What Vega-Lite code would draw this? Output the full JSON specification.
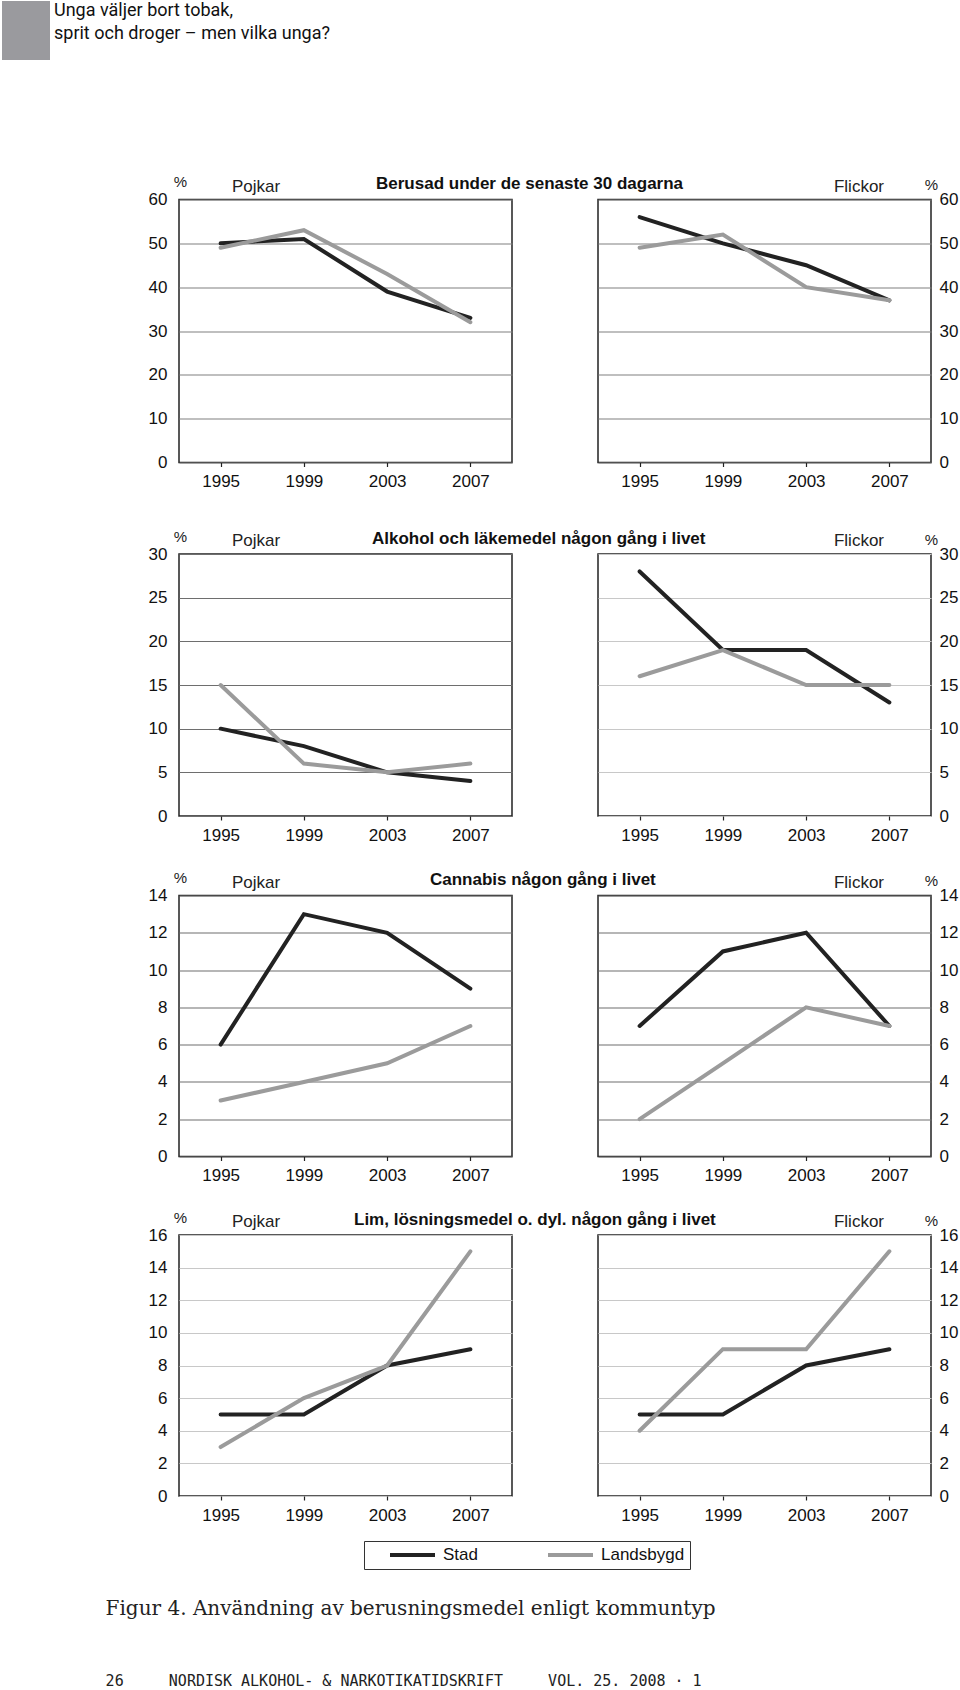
{
  "$schema": "https://vega.github.io/schema/vega-lite/v6.json",
  "padding": {"left": 2, "top": 1, "right": 0, "bottom": 0},
  "background": "white",
  "datasets": {
    "d": [
      {"drug": "Berusad", "sex": "Pojkar", "area": "Stad", "year": "1995", "value": 50},
      {"drug": "Berusad", "sex": "Pojkar", "area": "Stad", "year": "1999", "value": 51},
      {"drug": "Berusad", "sex": "Pojkar", "area": "Stad", "year": "2003", "value": 39},
      {"drug": "Berusad", "sex": "Pojkar", "area": "Stad", "year": "2007", "value": 33},
      {"drug": "Berusad", "sex": "Pojkar", "area": "Landsbygd", "year": "1995", "value": 49},
      {"drug": "Berusad", "sex": "Pojkar", "area": "Landsbygd", "year": "1999", "value": 53},
      {"drug": "Berusad", "sex": "Pojkar", "area": "Landsbygd", "year": "2003", "value": 43},
      {"drug": "Berusad", "sex": "Pojkar", "area": "Landsbygd", "year": "2007", "value": 32},
      {"drug": "Berusad", "sex": "Flickor", "area": "Stad", "year": "1995", "value": 56},
      {"drug": "Berusad", "sex": "Flickor", "area": "Stad", "year": "1999", "value": 50},
      {"drug": "Berusad", "sex": "Flickor", "area": "Stad", "year": "2003", "value": 45},
      {"drug": "Berusad", "sex": "Flickor", "area": "Stad", "year": "2007", "value": 37},
      {"drug": "Berusad", "sex": "Flickor", "area": "Landsbygd", "year": "1995", "value": 49},
      {"drug": "Berusad", "sex": "Flickor", "area": "Landsbygd", "year": "1999", "value": 52},
      {"drug": "Berusad", "sex": "Flickor", "area": "Landsbygd", "year": "2003", "value": 40},
      {"drug": "Berusad", "sex": "Flickor", "area": "Landsbygd", "year": "2007", "value": 37},
      {"drug": "Alkohol", "sex": "Pojkar", "area": "Stad", "year": "1995", "value": 10},
      {"drug": "Alkohol", "sex": "Pojkar", "area": "Stad", "year": "1999", "value": 8},
      {"drug": "Alkohol", "sex": "Pojkar", "area": "Stad", "year": "2003", "value": 5},
      {"drug": "Alkohol", "sex": "Pojkar", "area": "Stad", "year": "2007", "value": 4},
      {"drug": "Alkohol", "sex": "Pojkar", "area": "Landsbygd", "year": "1995", "value": 15},
      {"drug": "Alkohol", "sex": "Pojkar", "area": "Landsbygd", "year": "1999", "value": 6},
      {"drug": "Alkohol", "sex": "Pojkar", "area": "Landsbygd", "year": "2003", "value": 5},
      {"drug": "Alkohol", "sex": "Pojkar", "area": "Landsbygd", "year": "2007", "value": 6},
      {"drug": "Alkohol", "sex": "Flickor", "area": "Stad", "year": "1995", "value": 28},
      {"drug": "Alkohol", "sex": "Flickor", "area": "Stad", "year": "1999", "value": 19},
      {"drug": "Alkohol", "sex": "Flickor", "area": "Stad", "year": "2003", "value": 19},
      {"drug": "Alkohol", "sex": "Flickor", "area": "Stad", "year": "2007", "value": 13},
      {"drug": "Alkohol", "sex": "Flickor", "area": "Landsbygd", "year": "1995", "value": 16},
      {"drug": "Alkohol", "sex": "Flickor", "area": "Landsbygd", "year": "1999", "value": 19},
      {"drug": "Alkohol", "sex": "Flickor", "area": "Landsbygd", "year": "2003", "value": 15},
      {"drug": "Alkohol", "sex": "Flickor", "area": "Landsbygd", "year": "2007", "value": 15},
      {"drug": "Cannabis", "sex": "Pojkar", "area": "Stad", "year": "1995", "value": 6},
      {"drug": "Cannabis", "sex": "Pojkar", "area": "Stad", "year": "1999", "value": 13},
      {"drug": "Cannabis", "sex": "Pojkar", "area": "Stad", "year": "2003", "value": 12},
      {"drug": "Cannabis", "sex": "Pojkar", "area": "Stad", "year": "2007", "value": 9},
      {"drug": "Cannabis", "sex": "Pojkar", "area": "Landsbygd", "year": "1995", "value": 3},
      {"drug": "Cannabis", "sex": "Pojkar", "area": "Landsbygd", "year": "1999", "value": 4},
      {"drug": "Cannabis", "sex": "Pojkar", "area": "Landsbygd", "year": "2003", "value": 5},
      {"drug": "Cannabis", "sex": "Pojkar", "area": "Landsbygd", "year": "2007", "value": 7},
      {"drug": "Cannabis", "sex": "Flickor", "area": "Stad", "year": "1995", "value": 7},
      {"drug": "Cannabis", "sex": "Flickor", "area": "Stad", "year": "1999", "value": 11},
      {"drug": "Cannabis", "sex": "Flickor", "area": "Stad", "year": "2003", "value": 12},
      {"drug": "Cannabis", "sex": "Flickor", "area": "Stad", "year": "2007", "value": 7},
      {"drug": "Cannabis", "sex": "Flickor", "area": "Landsbygd", "year": "1995", "value": 2},
      {"drug": "Cannabis", "sex": "Flickor", "area": "Landsbygd", "year": "1999", "value": 5},
      {"drug": "Cannabis", "sex": "Flickor", "area": "Landsbygd", "year": "2003", "value": 8},
      {"drug": "Cannabis", "sex": "Flickor", "area": "Landsbygd", "year": "2007", "value": 7},
      {"drug": "Lim", "sex": "Pojkar", "area": "Stad", "year": "1995", "value": 5},
      {"drug": "Lim", "sex": "Pojkar", "area": "Stad", "year": "1999", "value": 5},
      {"drug": "Lim", "sex": "Pojkar", "area": "Stad", "year": "2003", "value": 8},
      {"drug": "Lim", "sex": "Pojkar", "area": "Stad", "year": "2007", "value": 9},
      {"drug": "Lim", "sex": "Pojkar", "area": "Landsbygd", "year": "1995", "value": 3},
      {"drug": "Lim", "sex": "Pojkar", "area": "Landsbygd", "year": "1999", "value": 6},
      {"drug": "Lim", "sex": "Pojkar", "area": "Landsbygd", "year": "2003", "value": 8},
      {"drug": "Lim", "sex": "Pojkar", "area": "Landsbygd", "year": "2007", "value": 15},
      {"drug": "Lim", "sex": "Flickor", "area": "Stad", "year": "1995", "value": 5},
      {"drug": "Lim", "sex": "Flickor", "area": "Stad", "year": "1999", "value": 5},
      {"drug": "Lim", "sex": "Flickor", "area": "Stad", "year": "2003", "value": 8},
      {"drug": "Lim", "sex": "Flickor", "area": "Stad", "year": "2007", "value": 9},
      {"drug": "Lim", "sex": "Flickor", "area": "Landsbygd", "year": "1995", "value": 4},
      {"drug": "Lim", "sex": "Flickor", "area": "Landsbygd", "year": "1999", "value": 9},
      {"drug": "Lim", "sex": "Flickor", "area": "Landsbygd", "year": "2003", "value": 9},
      {"drug": "Lim", "sex": "Flickor", "area": "Landsbygd", "year": "2007", "value": 15}
    ],
    "blank": [{"t": ""}]
  },
  "data": {"name": "d"},
  "title": {
    "text": "Figur 4. Användning av berusningsmedel enligt kommuntyp",
    "subtitle": "26\u00a0\u00a0\u00a0\u00a0\u00a0NORDISK ALKOHOL- & NARKOTIKATIDSKRIFT\u00a0\u00a0\u00a0\u00a0\u00a0VOL. 25. 2008 · 1",
    "orient": "bottom", "anchor": "start", "frame": "bounds", "dx": 103.6, "offset": 29,
    "baseline": "top", "font": "DejaVu Serif", "fontSize": 20, "fontWeight": "normal", "color": "#222",
    "subtitleFont": "DejaVu Sans Mono", "subtitleFontSize": 15, "subtitleColor": "#222", "subtitlePadding": 55
  },
  "spacing": 113.5,
  "vconcat": [
    {
      "data": {"name": "blank"},
      "width": 48, "height": 59,
      "view": {"fill": "#9a9a9e", "stroke": null},
      "title": {
        "text": ["Unga väljer bort tobak,", "sprit och droger – men vilka unga?"],
        "orient": "top", "anchor": "start", "frame": "group", "align": "left", "baseline": "top",
        "dx": 52, "offset": -41.5, "font": "Roboto", "fontSize": 18, "fontWeight": "normal", "lineHeight": 23, "color": "#111"
      },
      "mark": {"type": "text"},
      "encoding": {"text": {"field": "t"}}
    },
    {
      "spacing": 19.5,
      "vconcat": [
        {
          "title": {"text": "Berusad under de senaste 30 dagarna", "anchor": "start", "frame": "bounds", "dx": 374, "offset": -19.7, "baseline": "top", "fontSize": 17, "fontWeight": "bold", "font": "Liberation Sans", "color": "#111"},
          "spacing": 84,
          "hconcat": [
            {"data": {"name": "blank"}, "width": 1, "height": 1, "view": {"stroke": null}, "mark": {"type": "text"}, "encoding": {"text": {"field": "t"}}},
            {
              "width": 333, "height": 263,
              "title": {"text": "Pojkar", "anchor": "start", "frame": "group", "dx": 53, "offset": -21.2, "baseline": "top", "fontSize": 17, "fontWeight": "normal", "font": "Liberation Sans", "color": "#222"},
              "transform": [{"filter": "datum.drug === 'Berusad' && datum.sex === 'Pojkar'"}],
              "mark": {"type": "line", "strokeWidth": 4, "strokeCap": "round"},
              "encoding": {
                "x": {"field": "year", "type": "ordinal", "axis": {"minExtent": 45}},
                "y": {"field": "value", "type": "quantitative", "scale": {"domain": [0, 60], "nice": false},
                  "axis": {"orient": "left", "values": [0, 10, 20, 30, 40, 50, 60], "title": "%", "titleX": 1, "titleY": -18, "minExtent": 91, "labelPadding": 12, "gridColor": "#808080"}},
                "color": {"field": "area", "type": "nominal", "scale": {"domain": ["Stad", "Landsbygd"], "range": ["#222222", "#9b9b9b"]},
                  "legend": {"orient": "none", "legendX": 362, "legendY": 1540, "direction": "horizontal", "title": null, "symbolType": "stroke", "symbolStrokeWidth": 4, "symbolSize": 2025, "clipHeight": 18, "labelFontSize": 17, "labelFont": "Liberation Sans", "labelColor": "#111", "labelOffset": 6, "columnPadding": 49, "padding": 5, "strokeColor": "#333", "fillColor": "white", "symbolOffset": 19}}
              }
            },
            {
              "width": 333, "height": 263,
              "title": {"text": "Flickor", "anchor": "end", "frame": "group", "dx": -47, "offset": -18.2, "baseline": "top", "fontSize": 17, "fontWeight": "normal", "font": "Liberation Sans", "color": "#222"},
              "transform": [{"filter": "datum.drug === 'Berusad' && datum.sex === 'Flickor'"}],
              "mark": {"type": "line", "strokeWidth": 4, "strokeCap": "round"},
              "encoding": {
                "x": {"field": "year", "type": "ordinal", "axis": {"minExtent": 45}},
                "y": {"field": "value", "type": "quantitative", "scale": {"domain": [0, 60], "nice": false},
                  "axis": {"orient": "right", "values": [0, 10, 20, 30, 40, 50, 60], "title": "%", "titleX": 0, "titleY": -15, "labelPadding": 8, "gridColor": "#808080"}},
                "color": {"field": "area", "type": "nominal", "scale": {"domain": ["Stad", "Landsbygd"], "range": ["#222222", "#9b9b9b"]},
                  "legend": {"orient": "none", "legendX": 362, "legendY": 1540, "direction": "horizontal", "title": null, "symbolType": "stroke", "symbolStrokeWidth": 4, "symbolSize": 2025, "clipHeight": 18, "labelFontSize": 17, "labelFont": "Liberation Sans", "labelColor": "#111", "labelOffset": 6, "columnPadding": 49, "padding": 5, "strokeColor": "#333", "fillColor": "white", "symbolOffset": 19}}
              }
            }
          ]
        },
        {
          "title": {"text": "Alkohol och läkemedel någon gång i livet", "anchor": "start", "frame": "bounds", "dx": 370, "offset": -19.7, "baseline": "top", "fontSize": 17, "fontWeight": "bold", "font": "Liberation Sans", "color": "#111"},
          "spacing": 84,
          "hconcat": [
            {"data": {"name": "blank"}, "width": 1, "height": 1, "view": {"stroke": null}, "mark": {"type": "text"}, "encoding": {"text": {"field": "t"}}},
            {
              "width": 333, "height": 262,
              "title": {"text": "Pojkar", "anchor": "start", "frame": "group", "dx": 53, "offset": -21.2, "baseline": "top", "fontSize": 17, "fontWeight": "normal", "font": "Liberation Sans", "color": "#222"},
              "transform": [{"filter": "datum.drug === 'Alkohol' && datum.sex === 'Pojkar'"}],
              "mark": {"type": "line", "strokeWidth": 4, "strokeCap": "round"},
              "encoding": {
                "x": {"field": "year", "type": "ordinal", "axis": {"minExtent": 33}},
                "y": {"field": "value", "type": "quantitative", "scale": {"domain": [0, 30], "nice": false},
                  "axis": {"orient": "left", "values": [0, 5, 10, 15, 20, 25, 30], "title": "%", "titleX": 1, "titleY": -18, "minExtent": 91, "labelPadding": 12, "gridColor": "#6e6e6e"}},
                "color": {"field": "area", "type": "nominal", "scale": {"domain": ["Stad", "Landsbygd"], "range": ["#222222", "#9b9b9b"]},
                  "legend": {"orient": "none", "legendX": 362, "legendY": 1540, "direction": "horizontal", "title": null, "symbolType": "stroke", "symbolStrokeWidth": 4, "symbolSize": 2025, "clipHeight": 18, "labelFontSize": 17, "labelFont": "Liberation Sans", "labelColor": "#111", "labelOffset": 6, "columnPadding": 49, "padding": 5, "strokeColor": "#333", "fillColor": "white", "symbolOffset": 19}}
              }
            },
            {
              "width": 333, "height": 262,
              "title": {"text": "Flickor", "anchor": "end", "frame": "group", "dx": -47, "offset": -18.2, "baseline": "top", "fontSize": 17, "fontWeight": "normal", "font": "Liberation Sans", "color": "#222"},
              "transform": [{"filter": "datum.drug === 'Alkohol' && datum.sex === 'Flickor'"}],
              "mark": {"type": "line", "strokeWidth": 4, "strokeCap": "round"},
              "encoding": {
                "x": {"field": "year", "type": "ordinal", "axis": {"minExtent": 33}},
                "y": {"field": "value", "type": "quantitative", "scale": {"domain": [0, 30], "nice": false},
                  "axis": {"orient": "right", "values": [0, 5, 10, 15, 20, 25, 30], "title": "%", "titleX": 0, "titleY": -15, "labelPadding": 8, "gridColor": "#c8c8c8"}},
                "color": {"field": "area", "type": "nominal", "scale": {"domain": ["Stad", "Landsbygd"], "range": ["#222222", "#9b9b9b"]},
                  "legend": {"orient": "none", "legendX": 362, "legendY": 1540, "direction": "horizontal", "title": null, "symbolType": "stroke", "symbolStrokeWidth": 4, "symbolSize": 2025, "clipHeight": 18, "labelFontSize": 17, "labelFont": "Liberation Sans", "labelColor": "#111", "labelOffset": 6, "columnPadding": 49, "padding": 5, "strokeColor": "#333", "fillColor": "white", "symbolOffset": 19}}
              }
            }
          ]
        },
        {
          "title": {"text": "Cannabis någon gång i livet", "anchor": "start", "frame": "bounds", "dx": 428, "offset": -19.7, "baseline": "top", "fontSize": 17, "fontWeight": "bold", "font": "Liberation Sans", "color": "#111"},
          "spacing": 84,
          "hconcat": [
            {"data": {"name": "blank"}, "width": 1, "height": 1, "view": {"stroke": null}, "mark": {"type": "text"}, "encoding": {"text": {"field": "t"}}},
            {
              "width": 333, "height": 261,
              "title": {"text": "Pojkar", "anchor": "start", "frame": "group", "dx": 53, "offset": -21.2, "baseline": "top", "fontSize": 17, "fontWeight": "normal", "font": "Liberation Sans", "color": "#222"},
              "transform": [{"filter": "datum.drug === 'Cannabis' && datum.sex === 'Pojkar'"}],
              "mark": {"type": "line", "strokeWidth": 4, "strokeCap": "round"},
              "encoding": {
                "x": {"field": "year", "type": "ordinal", "axis": {"minExtent": 32}},
                "y": {"field": "value", "type": "quantitative", "scale": {"domain": [0, 14], "nice": false},
                  "axis": {"orient": "left", "values": [0, 2, 4, 6, 8, 10, 12, 14], "title": "%", "titleX": 1, "titleY": -18, "minExtent": 91, "labelPadding": 12, "gridColor": "#6e6e6e"}},
                "color": {"field": "area", "type": "nominal", "scale": {"domain": ["Stad", "Landsbygd"], "range": ["#222222", "#9b9b9b"]},
                  "legend": {"orient": "none", "legendX": 362, "legendY": 1540, "direction": "horizontal", "title": null, "symbolType": "stroke", "symbolStrokeWidth": 4, "symbolSize": 2025, "clipHeight": 18, "labelFontSize": 17, "labelFont": "Liberation Sans", "labelColor": "#111", "labelOffset": 6, "columnPadding": 49, "padding": 5, "strokeColor": "#333", "fillColor": "white", "symbolOffset": 19}}
              }
            },
            {
              "width": 333, "height": 261,
              "title": {"text": "Flickor", "anchor": "end", "frame": "group", "dx": -47, "offset": -18.2, "baseline": "top", "fontSize": 17, "fontWeight": "normal", "font": "Liberation Sans", "color": "#222"},
              "transform": [{"filter": "datum.drug === 'Cannabis' && datum.sex === 'Flickor'"}],
              "mark": {"type": "line", "strokeWidth": 4, "strokeCap": "round"},
              "encoding": {
                "x": {"field": "year", "type": "ordinal", "axis": {"minExtent": 32}},
                "y": {"field": "value", "type": "quantitative", "scale": {"domain": [0, 14], "nice": false},
                  "axis": {"orient": "right", "values": [0, 2, 4, 6, 8, 10, 12, 14], "title": "%", "titleX": 0, "titleY": -15, "labelPadding": 8, "gridColor": "#6e6e6e"}},
                "color": {"field": "area", "type": "nominal", "scale": {"domain": ["Stad", "Landsbygd"], "range": ["#222222", "#9b9b9b"]},
                  "legend": {"orient": "none", "legendX": 362, "legendY": 1540, "direction": "horizontal", "title": null, "symbolType": "stroke", "symbolStrokeWidth": 4, "symbolSize": 2025, "clipHeight": 18, "labelFontSize": 17, "labelFont": "Liberation Sans", "labelColor": "#111", "labelOffset": 6, "columnPadding": 49, "padding": 5, "strokeColor": "#333", "fillColor": "white", "symbolOffset": 19}}
              }
            }
          ]
        },
        {
          "title": {"text": "Lim, lösningsmedel o. dyl. någon gång i livet", "anchor": "start", "frame": "bounds", "dx": 352, "offset": -19.7, "baseline": "top", "fontSize": 17, "fontWeight": "bold", "font": "Liberation Sans", "color": "#111"},
          "spacing": 84,
          "hconcat": [
            {"data": {"name": "blank"}, "width": 1, "height": 1, "view": {"stroke": null}, "mark": {"type": "text"}, "encoding": {"text": {"field": "t"}}},
            {
              "width": 333, "height": 261,
              "title": {"text": "Pojkar", "anchor": "start", "frame": "group", "dx": 53, "offset": -21.2, "baseline": "top", "fontSize": 17, "fontWeight": "normal", "font": "Liberation Sans", "color": "#222"},
              "transform": [{"filter": "datum.drug === 'Lim' && datum.sex === 'Pojkar'"}],
              "mark": {"type": "line", "strokeWidth": 4, "strokeCap": "round"},
              "encoding": {
                "x": {"field": "year", "type": "ordinal", "axis": {"minExtent": 35}},
                "y": {"field": "value", "type": "quantitative", "scale": {"domain": [0, 16], "nice": false},
                  "axis": {"orient": "left", "values": [0, 2, 4, 6, 8, 10, 12, 14, 16], "title": "%", "titleX": 1, "titleY": -18, "minExtent": 91, "labelPadding": 12, "gridColor": "#c8c8c8"}},
                "color": {"field": "area", "type": "nominal", "scale": {"domain": ["Stad", "Landsbygd"], "range": ["#222222", "#9b9b9b"]},
                  "legend": {"orient": "none", "legendX": 362, "legendY": 1540, "direction": "horizontal", "title": null, "symbolType": "stroke", "symbolStrokeWidth": 4, "symbolSize": 2025, "clipHeight": 18, "labelFontSize": 17, "labelFont": "Liberation Sans", "labelColor": "#111", "labelOffset": 6, "columnPadding": 49, "padding": 5, "strokeColor": "#333", "fillColor": "white", "symbolOffset": 19}}
              }
            },
            {
              "width": 333, "height": 261,
              "title": {"text": "Flickor", "anchor": "end", "frame": "group", "dx": -47, "offset": -18.2, "baseline": "top", "fontSize": 17, "fontWeight": "normal", "font": "Liberation Sans", "color": "#222"},
              "transform": [{"filter": "datum.drug === 'Lim' && datum.sex === 'Flickor'"}],
              "mark": {"type": "line", "strokeWidth": 4, "strokeCap": "round"},
              "encoding": {
                "x": {"field": "year", "type": "ordinal", "axis": {"minExtent": 35}},
                "y": {"field": "value", "type": "quantitative", "scale": {"domain": [0, 16], "nice": false},
                  "axis": {"orient": "right", "values": [0, 2, 4, 6, 8, 10, 12, 14, 16], "title": "%", "titleX": 0, "titleY": -15, "labelPadding": 8, "gridColor": "#c8c8c8"}},
                "color": {"field": "area", "type": "nominal", "scale": {"domain": ["Stad", "Landsbygd"], "range": ["#222222", "#9b9b9b"]},
                  "legend": {"orient": "none", "legendX": 362, "legendY": 1540, "direction": "horizontal", "title": null, "symbolType": "stroke", "symbolStrokeWidth": 4, "symbolSize": 2025, "clipHeight": 18, "labelFontSize": 17, "labelFont": "Liberation Sans", "labelColor": "#111", "labelOffset": 6, "columnPadding": 49, "padding": 5, "strokeColor": "#333", "fillColor": "white", "symbolOffset": 19}}
              }
            }
          ]
        }
      ]
    }
  ],
  "config": {
    "font": "Liberation Sans",
    "view": {"stroke": "#222", "strokeWidth": 1.5},
    "axisX": {"title": null, "labelAngle": 0, "labelFontSize": 17, "labelColor": "#111", "labelPadding": 7, "tickSize": 4, "tickColor": "#222", "tickWidth": 1.2, "domain": false, "grid": false},
    "axisY": {"labelFontSize": 17, "labelColor": "#111", "ticks": false, "domain": false, "grid": true, "gridWidth": 1.2, "titleAngle": 0, "titleAlign": "center", "titleBaseline": "middle", "titleFontSize": 15, "titleFontWeight": "normal", "titleColor": "#222", "labelFlush": false}
  }
}
